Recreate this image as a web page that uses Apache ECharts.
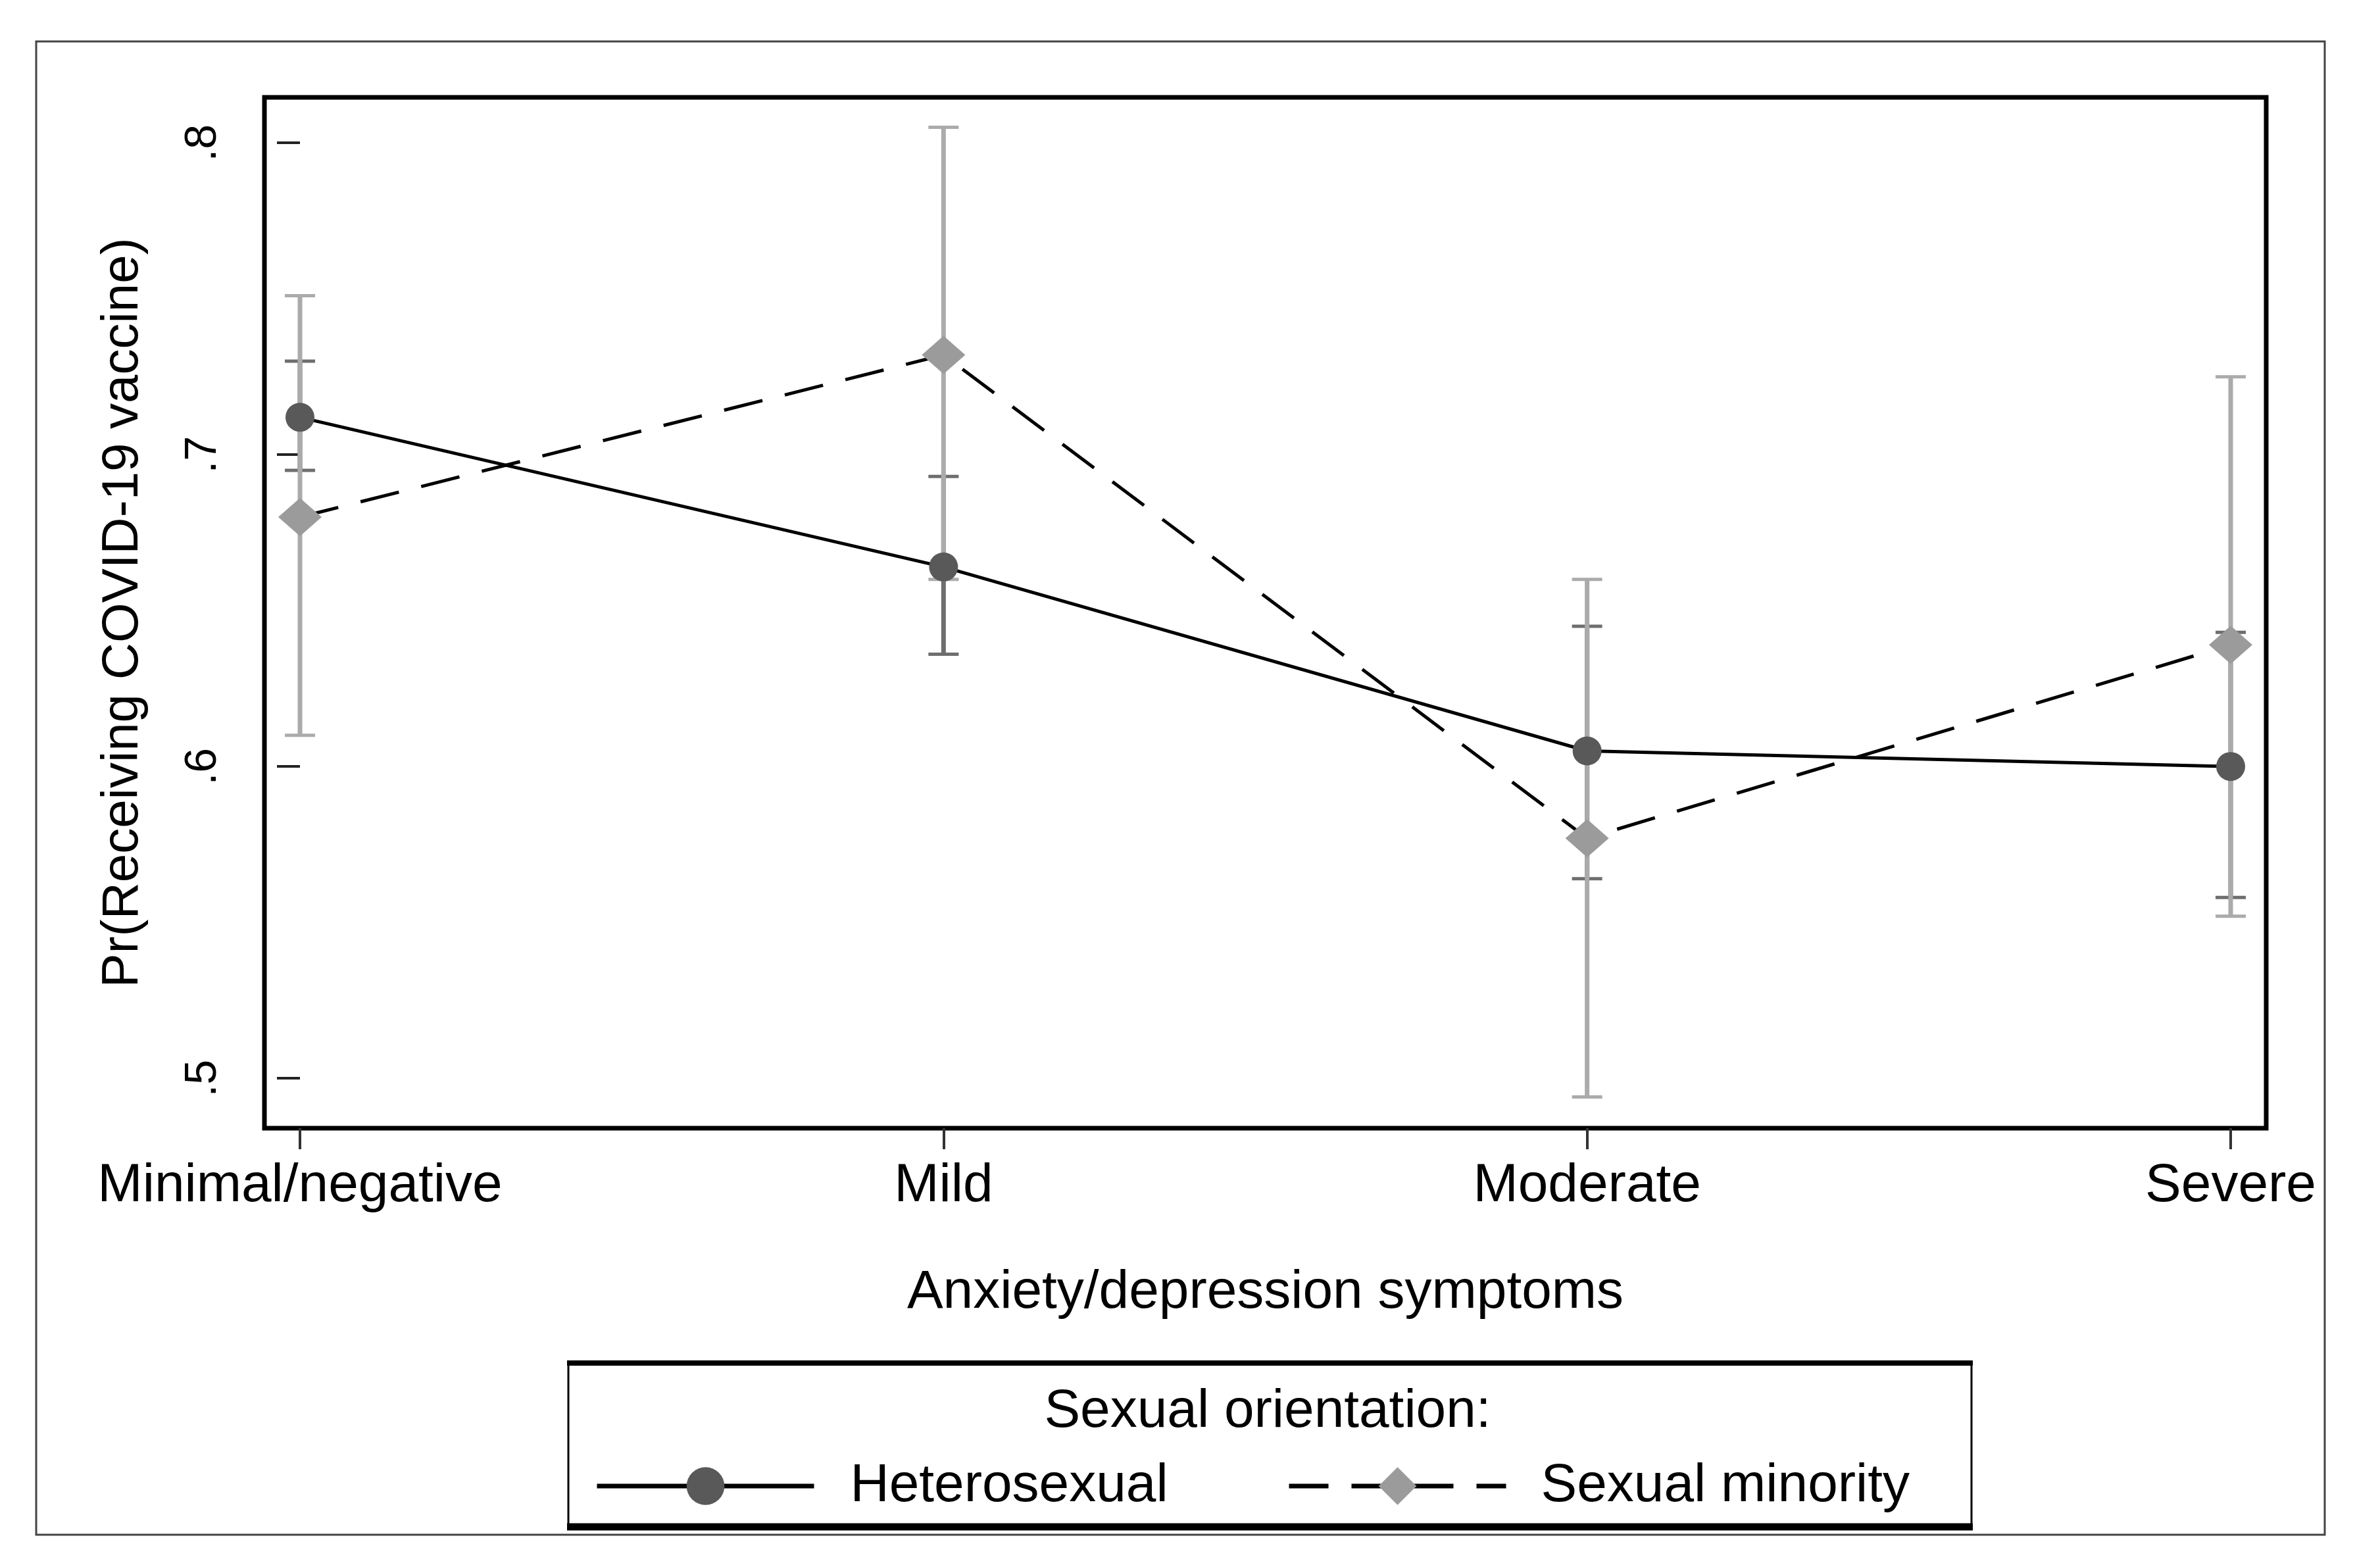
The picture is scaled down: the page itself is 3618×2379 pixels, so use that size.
<!DOCTYPE html>
<html><head><meta charset="utf-8">
<script src="https://cdn.jsdelivr.net/npm/echarts@6.0.0/dist/echarts.min.js"></script>
<style>html,body{margin:0;padding:0;background:#fff}#chart{width:3618px;height:2379px}</style>
</head><body><div id="chart"></div>
<script>
const categories = ['Minimal/negative', 'Mild', 'Moderate', 'Severe'];
const yTickValues = [0.5, 0.6, 0.7, 0.8];
const heteroEst  = [0.712, 0.664, 0.605, 0.600];
const heteroLow  = [0.695, 0.636, 0.564, 0.558];
const heteroHigh = [0.730, 0.693, 0.645, 0.643];
const minorityEst  = [0.680, 0.732, 0.577, 0.639];
const minorityLow  = [0.610, 0.660, 0.494, 0.552];
const minorityHigh = [0.751, 0.805, 0.660, 0.725];
const seriesNames = ['Heterosexual', 'Sexual minority'];

const FONT = '"Liberation Sans", Arial, Helvetica, sans-serif';

function errRender(color) {
  return function (params, api) {
    const x = api.value(0), lo = api.value(1), hi = api.value(2);
    const pLo = api.coord([x, lo]), pHi = api.coord([x, hi]);
    const hw = 23;
    return {
      type: 'group',
      children: [
        { type: 'line', shape: { x1: pLo[0], y1: pLo[1], x2: pHi[0], y2: pHi[1] }, style: { stroke: color, lineWidth: 7 } },
        { type: 'line', shape: { x1: pLo[0] - hw, y1: pLo[1], x2: pLo[0] + hw, y2: pLo[1] }, style: { stroke: color, lineWidth: 5 } },
        { type: 'line', shape: { x1: pHi[0] - hw, y1: pHi[1], x2: pHi[0] + hw, y2: pHi[1] }, style: { stroke: color, lineWidth: 5 } }
      ]
    };
  };
}

const chart = echarts.init(document.getElementById('chart'), null, { renderer: 'canvas' });
chart.setOption({
  animation: false,
  backgroundColor: '#ffffff',
  textStyle: { fontFamily: FONT },
  grid: {
    left: 402, right: 173, top: 148, bottom: 664,
    show: true, borderColor: '#000', borderWidth: 7, backgroundColor: 'transparent',
    outerBoundsMode: 'none'
  },
  xAxis: {
    type: 'value', min: -0.0552, max: 3.0552,
    name: 'Anxiety/depression symptoms', nameLocation: 'middle', nameGap: 209,
    nameTextStyle: { fontSize: 82, color: '#000', fontFamily: FONT },
    axisLine: { show: false },
    splitLine: { show: false },
    axisTick: { show: true, length: 32, customValues: [0, 1, 2, 3], lineStyle: { color: '#333', width: 4 } },
    axisLabel: {
      customValues: [0, 1, 2, 3], margin: 47, fontSize: 82, color: '#000', fontFamily: FONT,
      formatter: v => categories[Math.round(v)] || ''
    }
  },
  yAxis: {
    type: 'value', min: 0.4840, max: 0.8146,
    name: 'Pr(Receiving COVID-19 vaccine)', nameLocation: 'middle', nameGap: 176, nameRotate: 90,
    nameTextStyle: { fontSize: 78, color: '#000', fontFamily: FONT },
    axisLine: { show: false },
    splitLine: { show: false },
    axisTick: { show: true, length: 35, customValues: yTickValues, lineStyle: { color: '#222', width: 4 } },
    axisLabel: {
      customValues: yTickValues, rotate: 90, margin: 59, fontSize: 68, color: '#000', fontFamily: FONT,
      formatter: v => '.' + Math.round(v * 10)
    }
  },
  legend: [
    {
      data: [seriesNames[0]], left: 899, top: 2213, itemWidth: 330, itemHeight: 72,
      lineStyle: { width: 7 },
      textStyle: { fontSize: 82, color: '#000', fontFamily: FONT, padding: [0, 0, 0, 50] },
      selectedMode: false
    },
    {
      data: [seriesNames[1]], left: 1951, top: 2213, itemWidth: 330, itemHeight: 72,
      lineStyle: { width: 7 },
      textStyle: { fontSize: 82, color: '#000', fontFamily: FONT, padding: [0, 0, 0, 48] },
      selectedMode: false
    }
  ],
  graphic: [
    { type: 'rect', shape: { x: 55, y: 63, width: 3479, height: 2270 }, style: { fill: 'none', stroke: '#444', lineWidth: 3 }, z: 0 },
    { type: 'rect', shape: { x: 864, y: 2072, width: 2133, height: 250 }, style: { fill: 'none', stroke: '#000', lineWidth: 3 }, z: 1 },
    { type: 'line', shape: { x1: 862, y1: 2072, x2: 2999, y2: 2072 }, style: { stroke: '#000', lineWidth: 8 }, z: 1 },
    { type: 'line', shape: { x1: 862, y1: 2321, x2: 2999, y2: 2321 }, style: { stroke: '#000', lineWidth: 11 }, z: 1 },
    { type: 'text', x: 1927, y: 2146, style: { text: 'Sexual orientation:', fontSize: 82, fontFamily: FONT, fill: '#000', textAlign: 'center', textVerticalAlign: 'middle' }, z: 2 }
  ],
  series: [
    {
      name: 'ci-hetero', type: 'custom', z: 1,
      renderItem: errRender('#6e6e6e'),
      encode: { x: 0, y: [1, 2] },
      data: categories.map((c, i) => [i, heteroLow[i], heteroHigh[i]])
    },
    {
      name: 'ci-minority', type: 'custom', z: 2,
      renderItem: errRender('#ababab'),
      encode: { x: 0, y: [1, 2] },
      data: categories.map((c, i) => [i, minorityLow[i], minorityHigh[i]])
    },
    {
      name: seriesNames[0], type: 'line', z: 3,
      symbol: 'circle', symbolSize: 44,
      itemStyle: { color: '#595959' },
      lineStyle: { color: '#000', width: 5, type: 'solid' },
      data: categories.map((c, i) => [i, heteroEst[i]])
    },
    {
      name: seriesNames[1], type: 'line', z: 4,
      symbol: 'diamond', symbolSize: [66, 58],
      itemStyle: { color: '#9b9b9b' },
      lineStyle: { color: '#000', width: 5, type: [60, 35] },
      data: categories.map((c, i) => [i, minorityEst[i]])
    }
  ]
});
</script>
</body></html>
